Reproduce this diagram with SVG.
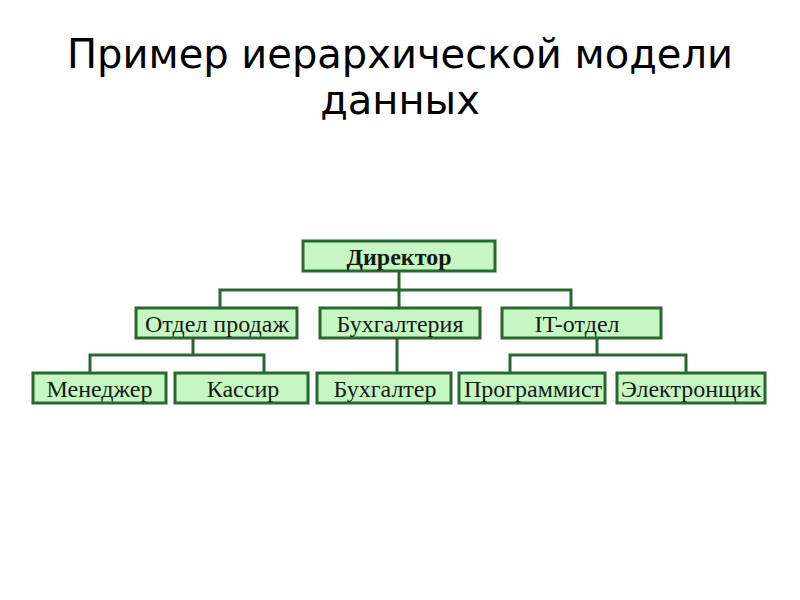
<svg xmlns="http://www.w3.org/2000/svg" width="800" height="600" viewBox="0 0 800 600">
<style>
.title{font-family:"DejaVu Sans",sans-serif;font-size:40px;fill:#000;text-anchor:middle}
.box{fill:#c6f6c1;stroke:#2a6630;stroke-width:3}
.lbl{font-family:"Liberation Serif",serif;font-size:24px;fill:#151a15;text-anchor:middle}
.b{font-weight:bold}
.ln{fill:none;stroke:#2a6630;stroke-width:3}
</style>
<rect width="800" height="600" fill="#fff"/>
<text class="title" x="400" y="68">Пример иерархической модели</text>
<text class="title" x="400" y="114">данных</text>
<g id="connectors">
<path class="ln" d="M399 271V290M220 308V290H571V308M399 290V308"/>
<path class="ln" d="M193 338V355M90 373V355H264V373"/>
<path class="ln" d="M397 338V373"/>
<path class="ln" d="M597 338V355M510 373V355H686V373"/>
</g>
<g id="n-director"><rect class="box" x="303" y="241" width="192" height="30"/><text class="lbl b" x="399" y="265">Директор</text></g>
<g id="n-sales"><rect class="box" x="136" y="308" width="161" height="30"/><text class="lbl" x="217" y="331.5">Отдел продаж</text></g>
<g id="n-acc"><rect class="box" x="320" y="308" width="160" height="30"/><text class="lbl" x="400" y="331.5">Бухгалтерия</text></g>
<g id="n-it"><rect class="box" x="502" y="308" width="159" height="30"/><text class="lbl" x="577" y="331.5">IT-отдел</text></g>
<g id="n-manager"><rect class="box" x="33" y="373" width="133" height="30"/><text class="lbl" x="99.5" y="396.5">Менеджер</text></g>
<g id="n-cashier"><rect class="box" x="175" y="373" width="133" height="30"/><text class="lbl" x="243" y="396.5">Кассир</text></g>
<g id="n-accountant"><rect class="box" x="317" y="373" width="134" height="30"/><text class="lbl" x="385" y="396.5">Бухгалтер</text></g>
<g id="n-programmer"><rect class="box" x="459" y="373" width="146" height="30"/><text class="lbl" x="533" y="396.5">Программист</text></g>
<g id="n-electronic"><rect class="box" x="617" y="373" width="148" height="30"/><text class="lbl" x="691" y="396.5">Электронщик</text></g>
</svg>
